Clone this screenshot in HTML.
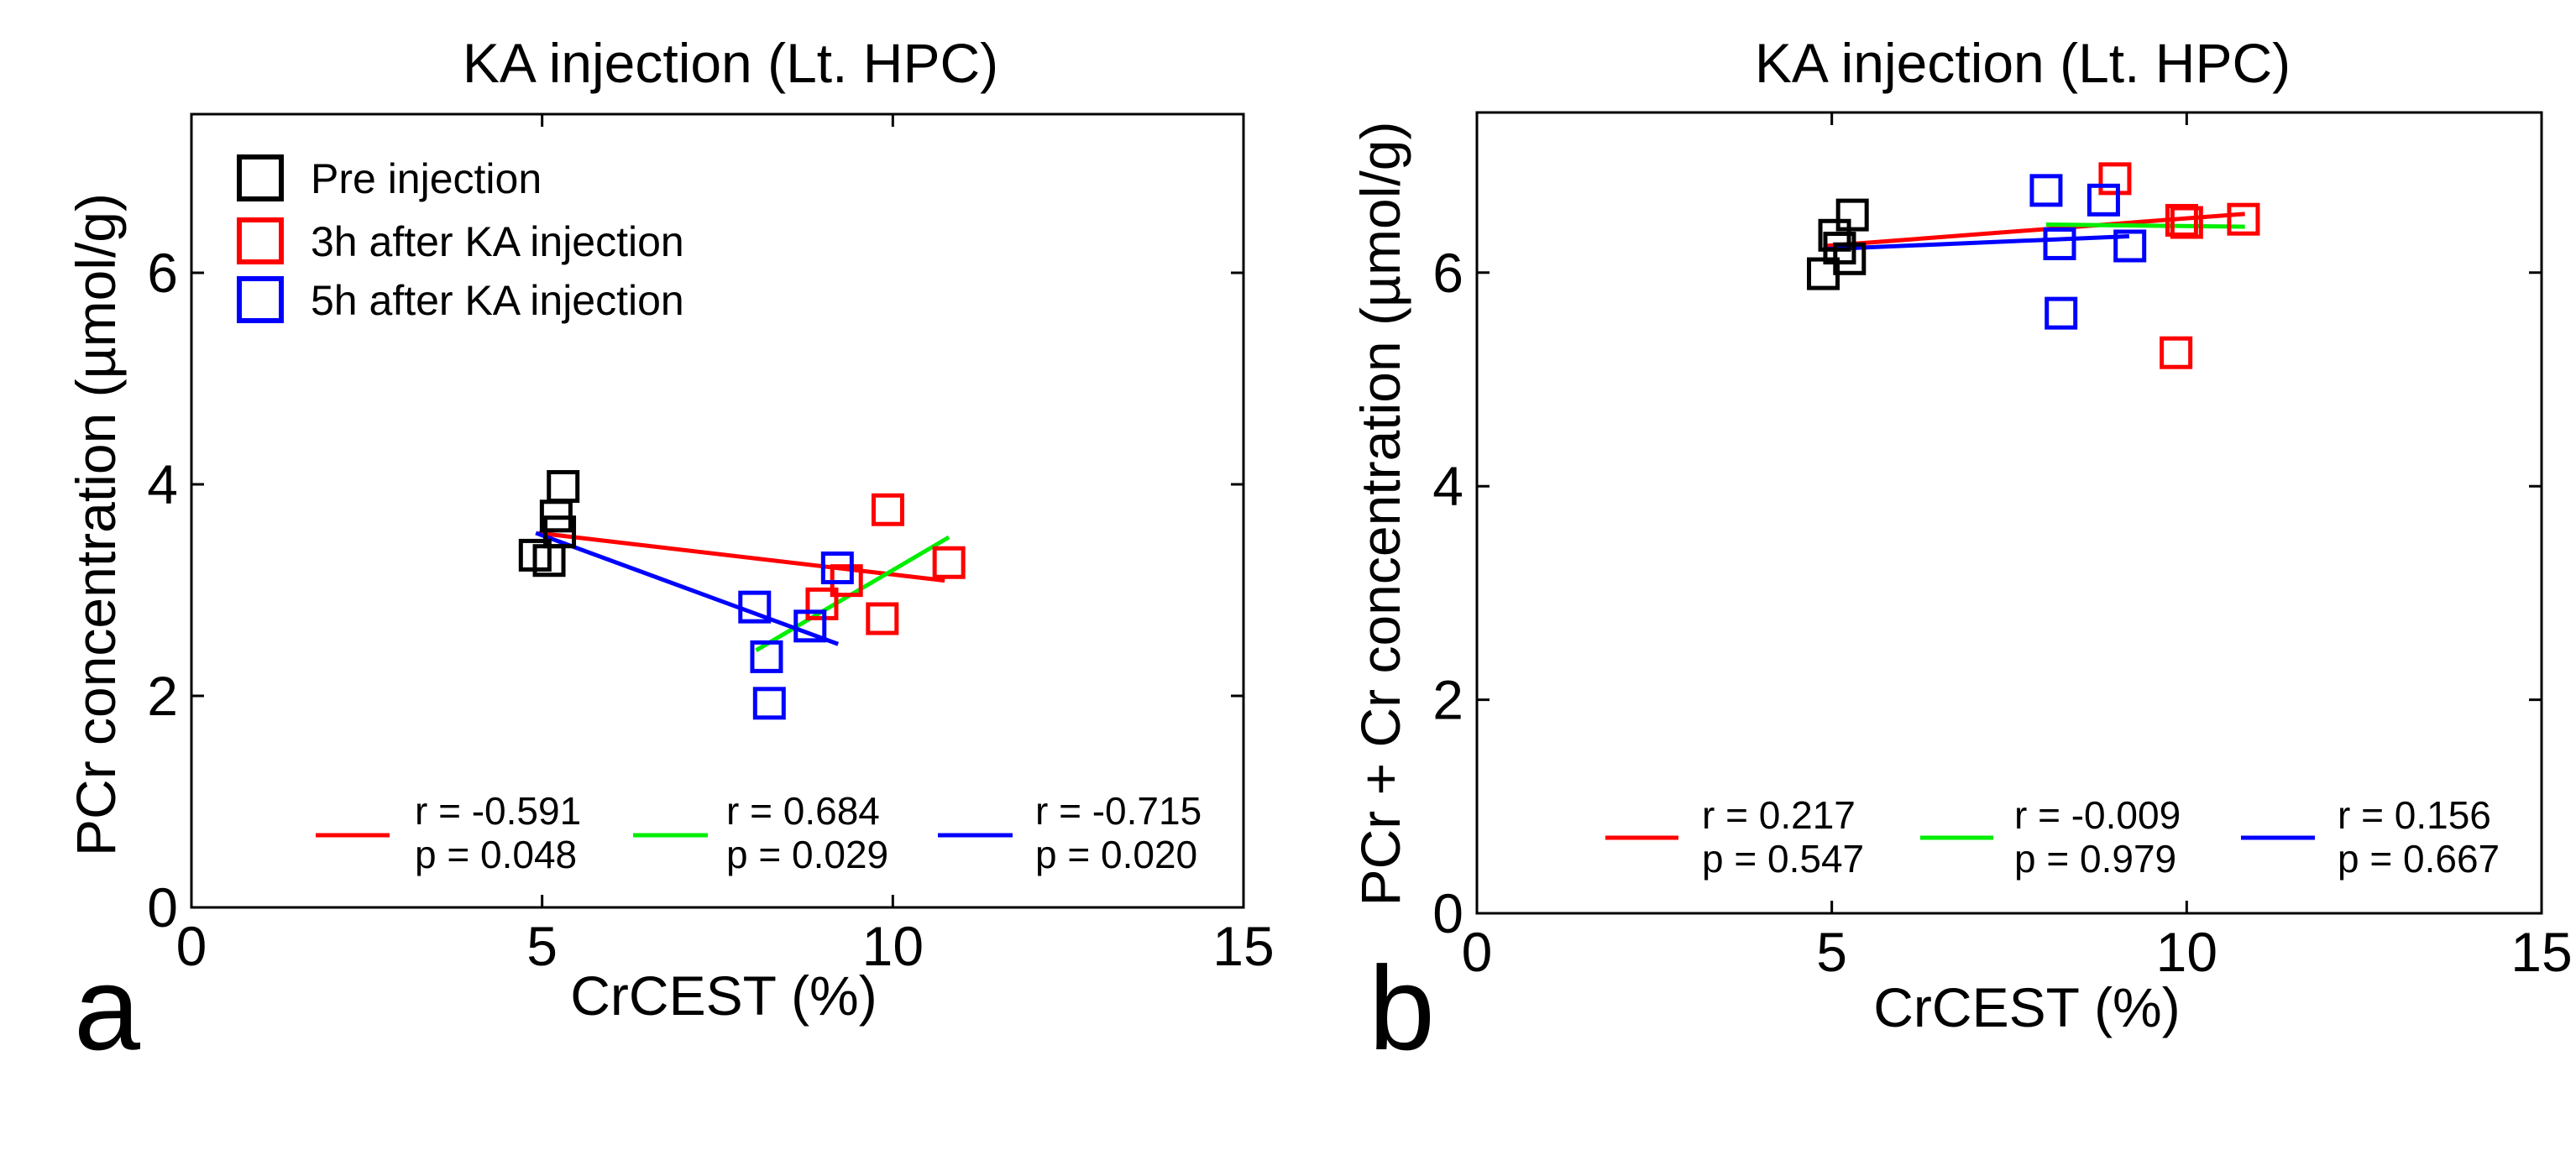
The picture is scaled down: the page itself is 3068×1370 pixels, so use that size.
<!DOCTYPE html>
<html><head><meta charset="utf-8"><style>
html,body{margin:0;padding:0;background:#fff;}
svg{display:block;font-family:"Liberation Sans",Arial,sans-serif;}
</style></head><body>
<svg id="fig" width="3068" height="1370" viewBox="0 0 3068 1370" xmlns="http://www.w3.org/2000/svg"></svg>
<script>
// ---- Data ----
const xTicks = [0, 5, 10, 15];
const yTicks = [0, 2, 4, 6];
const seriesNames = ["Pre injection", "3h after KA injection", "5h after KA injection"];
// Panel a: PCr
const aPreX = [4.9, 5.1, 5.2, 5.3, 5.25];
const aPreY = [3.33, 3.28, 3.7, 3.98, 3.55];
const a3hX = [9.93, 9.85, 10.8, 8.99, 9.34];
const a3hY = [3.76, 2.73, 3.26, 2.87, 3.09];
const a5hX = [8.03, 8.2, 8.24, 8.82, 9.21];
const a5hY = [2.84, 2.37, 1.93, 2.66, 3.21];
const aFitRedX = [4.95, 10.74], aFitRedY = [3.54, 3.09];
const aFitGreenX = [8.05, 10.8], aFitGreenY = [2.43, 3.5];
const aFitBlueX = [4.91, 9.22], aFitBlueY = [3.54, 2.49];
const aStatsR = ["-0.591", "0.684", "-0.715"];
const aStatsP = ["0.048", "0.029", "0.020"];
// Panel b: PCr + Cr
const bPreX = [4.88, 5.04, 5.29, 5.25, 5.11];
const bPreY = [5.99, 6.35, 6.54, 6.13, 6.23];
const b3hX = [8.99, 9.93, 10.8, 9.85, 10.0];
const b3hY = [6.88, 6.49, 6.5, 5.25, 6.47];
const b5hX = [8.02, 8.83, 8.21, 9.2, 8.23];
const b5hY = [6.77, 6.68, 6.27, 6.25, 5.62];
const bFitRedX = [4.9, 10.82], bFitRedY = [6.25, 6.55];
const bFitGreenX = [8.02, 10.82], bFitGreenY = [6.45, 6.43];
const bFitBlueX = [4.9, 9.19], bFitBlueY = [6.22, 6.34];
const bStatsR = ["0.217", "-0.009", "0.156"];
const bStatsP = ["0.547", "0.979", "0.667"];

const NS = "http://www.w3.org/2000/svg";
const svg = document.getElementById("fig");
function mk(tag, attrs, parent, text){
  const e = document.createElementNS(NS, tag);
  for (const k in attrs) e.setAttribute(k, attrs[k]);
  if (text !== undefined) e.textContent = text;
  (parent || svg).appendChild(e);
  return e;
}

function panel(cfg){
  const g = mk("g", {});
  
  
  const L = cfg.L, R = cfg.R, T = cfg.T, B = cfg.B;
  const xs = v => L + (v - 0) / 15 * (R - L);
  const ys = v => B - (v - 0) / 7.5 * (B - T);

  const t = mk("text", {x: cfg.titleX, y: 98, "font-size": 66, "text-anchor": "middle"}, g, "KA injection (Lt. HPC)");
  
  

  const fr = mk("rect", {x: L, y: T, width: R - L, height: B - T, fill: "none", stroke: "#000", "stroke-width": 3}, g);
  
  

  xTicks.forEach(v => {
    const x = xs(v);
    const tk = mk("path", {d: `M${x},${B}v-15M${x},${T}v15`, stroke: "#000", "stroke-width": 3}, g);
    
    
    const lb = mk("text", {x: x, y: cfg.xTickY, "font-size": 66, "text-anchor": "middle"}, g, String(v));
    
    
  });
  yTicks.forEach(v => {
    const y = ys(v);
    const tk = mk("path", {d: `M${L},${y}h15M${R},${y}h-15`, stroke: "#000", "stroke-width": 3}, g);
    
    
    const lb = mk("text", {x: L - 16, y: y + 23, "font-size": 66, "text-anchor": "end"}, g, String(v));
    
    
  });

  const xl = mk("text", {x: cfg.xLabX, y: cfg.xLabY, "font-size": 66, "text-anchor": "middle"}, g, "CrCEST (%)");
  
  
  const yl = mk("text", {x: 0, y: 0, "font-size": cfg.yLabSize, "text-anchor": "middle",
    transform: `translate(${cfg.yLabX},${cfg.yLabY}) rotate(-90)`}, g, cfg.yLabel);
  
  

  const pl = mk("text", {x: cfg.letterX, y: 1250, "font-size": 142}, g, cfg.letter);
  
  

  const fits = [[cfg.fr[0], cfg.fr[1], "#ff0000", "fit-line-3h"], [cfg.fg[0], cfg.fg[1], "#00ee00", "fit-line-green"], [cfg.fb[0], cfg.fb[1], "#0000ff", "fit-line-5h"]];
  fits.forEach(f => {
    const ln = mk("line", {x1: xs(f[0][0]), y1: ys(f[1][0]), x2: xs(f[0][1]), y2: ys(f[1][1]), stroke: f[2], "stroke-width": 5}, g);
    
    
  });

  const S = 34;
  const sets = [[cfg.pre[0], cfg.pre[1], "#000", "marker-pre"], [cfg.h3[0], cfg.h3[1], "#ff0000", "marker-3h"], [cfg.h5[0], cfg.h5[1], "#0000ff", "marker-5h"]];
  sets.forEach(s => {
    s[0].forEach((xv, i) => {
      const r = mk("rect", {x: xs(xv) - S/2, y: ys(s[1][i]) - S/2, width: S, height: S, fill: "none", stroke: s[2], "stroke-width": 5}, g);
      
      
    });
  });

  if (cfg.legend) {
    const cols = ["#000", "#ff0000", "#0000ff"];
    const rowsY = [212, 287, 357];
    seriesNames.forEach((n, i) => {
      const sq = mk("rect", {x: 285, y: rowsY[i] - 25, width: 50, height: 50, fill: "none", stroke: cols[i], "stroke-width": 6}, g);
      
      
      const tx = mk("text", {x: 370, y: rowsY[i] + 18, "font-size": 50}, g, n);
      
      
    });
  }

  const sc = ["#ff0000", "#00ee00", "#0000ff"];
  cfg.stats.forEach((st, i) => {
    const ln = mk("line", {x1: st[0], y1: cfg.statLineY, x2: st[1], y2: cfg.statLineY, stroke: sc[i], "stroke-width": 5}, g);
    
    
    const r = mk("text", {x: st[2], y: cfg.statRY, "font-size": 46}, g, "r = " + cfg.rv[i]);
    
    
    const p = mk("text", {x: st[2], y: cfg.statRY + 52, "font-size": 46}, g, "p = " + cfg.pv[i]);
    
    
  });
}

panel({name: "panel-a", L: 228, R: 1481, T: 136, B: 1081, titleX: 870, xTickY: 1150,
  xLabX: 862, xLabY: 1209, yLabX: 137, yLabY: 625, yLabSize: 66,
  yLabel: "PCr concentration (\u00b5mol/g)", letter: "a", letterX: 88,
  pre: [aPreX, aPreY], h3: [a3hX, a3hY], h5: [a5hX, a5hY],
  fr: [aFitRedX, aFitRedY], fg: [aFitGreenX, aFitGreenY], fb: [aFitBlueX, aFitBlueY],
  legend: true, stats: [[376, 464, 494], [754, 843, 865], [1117, 1206, 1233]],
  statLineY: 995, statRY: 982, rv: aStatsR, pv: aStatsP});

panel({name: "panel-b", L: 1759, R: 3027, T: 134, B: 1088, titleX: 2409, xTickY: 1157,
  xLabX: 2414, xLabY: 1223, yLabX: 1667, yLabY: 612, yLabSize: 66,
  yLabel: "PCr + Cr concentration (\u00b5mol/g)", letter: "b", letterX: 1630,
  pre: [bPreX, bPreY], h3: [b3hX, b3hY], h5: [b5hX, b5hY],
  fr: [bFitRedX, bFitRedY], fg: [bFitGreenX, bFitGreenY], fb: [bFitBlueX, bFitBlueY],
  legend: false, stats: [[1912, 1999, 2027], [2287, 2374, 2399], [2669, 2757, 2784]],
  statLineY: 998, statRY: 987, rv: bStatsR, pv: bStatsP});
</script>
</body></html>
